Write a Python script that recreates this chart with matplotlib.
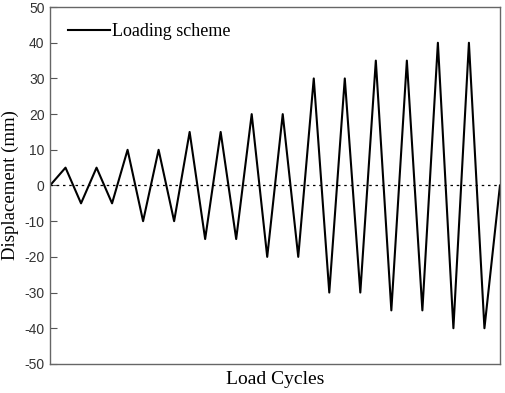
import numpy as np
import matplotlib
matplotlib.use("Agg")
import matplotlib.pyplot as plt

plt.rcParams["axes.unicode_minus"] = False

# peak displacement of each half-cycle (mm)
peaks = [0, 5, -5, 5, -5, 10, -10, 10, -10, 15, -15, 15, -15, 20, -20, 20, -20,
         30, -30, 30, -30, 35, -35, 35, -35, 40, -40, 40, -40, 0]
steps = np.arange(len(peaks))
yticks = [-50, -40, -30, -20, -10, 0, 10, 20, 30, 40, 50]

fig = plt.figure(figsize=(5.05, 3.93), dpi=100)
ax = fig.add_axes([0.099, 0.074, 0.891, 0.908])

ax.plot(steps, peaks, color="black", lw=1.5, label="Loading scheme")
ax.axhline(0, color="black", lw=0.9, ls=(0, (2, 3)))

ax.set_xlim(0, len(peaks) - 1)
ax.set_ylim(-50, 50)
ax.set_yticks(yticks)
ax.set_xticks([])
ax.tick_params(axis="y", direction="in", length=5, color="#555555",
               labelsize=10, labelcolor="#333333", pad=4)
for lab in ax.get_yticklabels():
    lab.set_family("Liberation Sans")
for s in ax.spines.values():
    s.set_color("#666666")
    s.set_linewidth(1.0)

ax.set_ylabel("Displacement (mm)", family="Liberation Serif", fontsize=13.5)
ax.yaxis.set_label_coords(-0.069, 0.5)
ax.set_xlabel("Load Cycles", family="Liberation Serif", fontsize=14, labelpad=5)

ax.legend(loc="upper left", frameon=False, prop={"family": "Liberation Serif", "size": 13},
          handlelength=2.3, handletextpad=0.15, borderaxespad=0.3, bbox_to_anchor=(0.012, 0.99))

fig.savefig("out.png", dpi=100)
